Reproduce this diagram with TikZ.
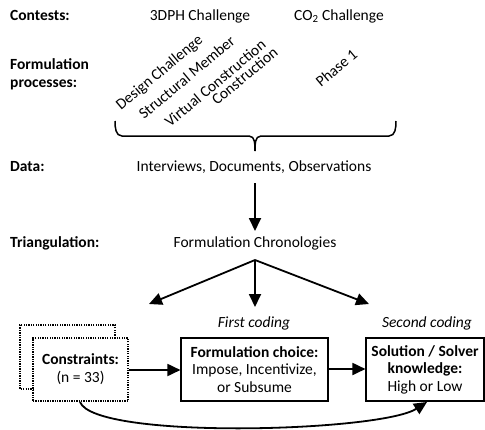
\documentclass[tikz,border=0pt]{standalone}
\usepackage{fontspec}
\setmainfont{Carlito}
\usetikzlibrary{arrows.meta}
\begin{document}
\begin{tikzpicture}[x=1pt,y=-1pt,
  every node/.style={font=\fontsize{15.5}{17.5}\selectfont, inner sep=0pt},
  lbl/.style={anchor=base west, font=\fontsize{15.5}{17.5}\selectfont\bfseries},
  txt/.style={anchor=base},
  rot/.style={anchor=base west, rotate=40},
  ital/.style={anchor=base, font=\fontsize{15.5}{17.5}\selectfont\itshape},
  box/.style={draw, line width=1.1pt, align=center, minimum height=63pt},
  dotbox/.style={line width=2pt, dash pattern=on 1.3pt off 1.1pt},
  arr/.style={-{Triangle[length=13pt,width=12pt]}, line width=1.8pt},
]
\useasboundingbox (0,0) rectangle (485,429);

% left labels
\node[lbl] (lcont) at (10,20.5) {Contests:};
\node[lbl] (lform) at (10,69) {Formulation};
\node[lbl] (lproc) at (10,87.5) {processes:};
\node[lbl] (ldata) at (10,171.5) {Data:};
\node[lbl] (ltri) at (10,247.5) {Triangulation:};

% contests
\node[txt] (c1) at (200,20.5) {3DPH Challenge};
\node[txt] (c2) at (339,20.5) {CO\textsubscript{2} Challenge};

% rotated process labels
\node[rot] (p1) at (121,111) {Design Challenge};
\node[rot] (p2) at (144,120) {Structural Member};
\node[rot] (p3) at (170,128) {Virtual Construction};
\node[rot] (p4) at (217,106) {Construction};
\node[rot] (p5) at (321,88) {Phase 1};

% brace
\coordinate (btip) at (255,151);
\draw[line width=1.5pt] (115,121) to[out=-90,in=180] (122,136) -- (249,136)
  to[out=0,in=90] (btip) to[out=90,in=180] (261,136) -- (389,136)
  to[out=0,in=-90] (396,121);

% data and chronologies
\node[txt] (data) at (254,171.5) {Interviews, Documents, Observations};
\node[txt] (chron) at (255,247.5) {Formulation Chronologies};
\draw[arr] (255,183) -- (255,231);

\coordinate (csrc) at (255,260);
\coordinate (tl) at (149,304);
\coordinate (tm) at (255,307);
\coordinate (tr) at (369,304);
\draw[arr] (csrc) -- (tl);
\draw[arr] (csrc) -- (tm);
\draw[arr] (csrc) -- (tr);

% coding labels
\node[ital] (first) at (254,327) {First coding};
\node[ital] (second) at (427,327) {Second coding};

% constraints boxes
\draw[dotbox] (115,338) -- (115,325) -- (20,325) -- (20,389) -- (33,389);
\node[draw, dotbox, minimum width=95pt, minimum height=63pt, align=center] (cons) at (80.5,369.5)
  {\textbf{Constraints:}\\[0.5pt](n = 33)};

% formulation choice box
\node[box, minimum width=147pt] (form) at (254.5,369.5)
  {\textbf{Formulation choice:}\\Impose, Incentivize,\\or Subsume};

% solution box
\node[box, minimum width=118pt] (sol) at (425,369.5)
  {\textbf{Solution / Solver}\\\textbf{knowledge:}\\High or Low};

\draw[arr] (cons.east |- 0,370) -- (form.west |- 0,370);
\draw[arr] (form.east |- 0,369) -- (sol.west |- 0,369);
\draw[arr] (80,402) .. controls (95,440) and (380,432) .. (427,402);
\end{tikzpicture}
\end{document}
